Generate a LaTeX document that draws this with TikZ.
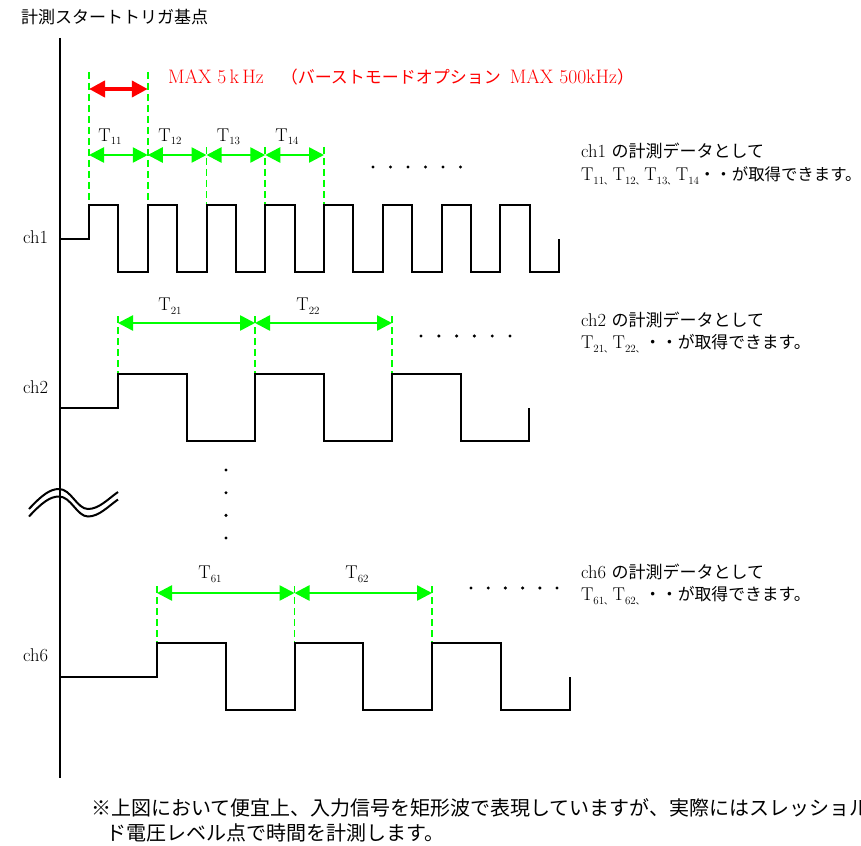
\documentclass[tikz,border=0pt]{standalone}
\usepackage{fontspec}
\newfontfamily\jp{Noto Sans CJK JP}
\usetikzlibrary{arrows.meta}
\newcommand\tsub[1]{\raisebox{-3.5pt}{\fontsize{11}{12}\selectfont #1}}
\newcommand\tsep{\raisebox{-3.5pt}{\jp\fontsize{8.5}{10}\selectfont 、}}

\begin{document}
\begin{tikzpicture}[x=1pt, y=-1pt, line width=2pt,
  wave/.style={draw=black, line width=2pt, line join=miter},
  guide/.style={draw=green, line width=1.8pt, dash pattern=on 7pt off 4pt},
  period/.style={draw=green, line width=2.6pt, {Triangle[length=15pt,width=15pt]}-{Triangle[length=15pt,width=15pt]}},
  burst/.style={draw=red, line width=4pt, {Triangle[length=16pt,width=16pt]}-{Triangle[length=16pt,width=16pt]}},
  tlabel/.style={anchor=base, inner sep=0pt, font=\fontsize{18.5}{21}\selectfont},
  txt/.style={anchor=base west, inner sep=0pt, font=\fontsize{18.5}{21}\selectfont},
  dotmark/.style={fill=black}]
\useasboundingbox (0,0) rectangle (861,845);

\node [txt, font=\jp\fontsize{17}{20}\selectfont] (title) at (20,23.5) {計測スタートトリガ基点};
\coordinate (axtop) at (60,38);
\coordinate (axbot) at (60,778);
\draw (axtop) -- (axbot);

% burst rate
\coordinate (m0) at (89,89);
\coordinate (m1) at (147.75,89);
\draw [burst] (m0) -- (m1);
\node [txt, red, font=\fontsize{19.5}{22}\selectfont] (maxrate) at (167,84) {MAX 5\,k\,Hz{\jp\fontsize{17}{20}\selectfont 　（バーストモードオプション}\hspace{3pt} MAX 500kHz{\jp\fontsize{17}{20}\selectfont ）}};

% ch1
\node [txt] (ch1) at (22,243) {ch1};
\draw [guide] (89,72) -- (89,205);
\draw [guide] (147.75,72) -- (147.75,205);
\foreach \k in {2,3,4} \draw [guide] ({89+58.75*\k},147) -- ({89+58.75*\k},205);
\foreach \k in {0,...,4} \coordinate (p1\k) at ({89+58.75*\k},155);
\draw [period] (p10) -- (p11);
\draw [period] (p11) -- (p12);
\draw [period] (p12) -- (p13);
\draw [period] (p13) -- (p14);
\node [tlabel] (t11) at (110,141.5) {T\tsub{11}};
\node [tlabel] (t12) at (170,141.5) {T\tsub{12}};
\node [tlabel] (t13) at (228.5,141.5) {T\tsub{13}};
\node [tlabel] (t14) at (287,141.5) {T\tsub{14}};
\draw [wave] (60,239) -- (89,239)
  \foreach \k in {0,...,7}{ -- ({89+58.75*\k},205) -- ({118.4+58.75*\k},205)
    -- ({118.4+58.75*\k},272) -- ({147.75+58.75*\k},272) }
  -- (559,239);
\foreach \x in {0,...,5} \fill [dotmark] ({373+17.5*\x},167) circle (1.7pt);
\node [txt] (d1a) at (580,158) {ch1 {\jp\fontsize{17}{20}\selectfont の計測データとして}};
\node [txt] (d1b) at (580,180.5) {T\tsub{11}\tsep T\tsub{12}\tsep T\tsub{13}\tsep T\tsub{14}{\jp\fontsize{16.4}{20}\selectfont ・・が取得できます。}};

% ch2
\node [txt] (ch2) at (22,393) {ch2};
\foreach \k in {0,1,2} \draw [guide] ({118+137*\k},316) -- ({118+137*\k},374);
\foreach \k in {0,1,2} \coordinate (p2\k) at ({118+137*\k},323);
\draw [period] (p20) -- (p21);
\draw [period] (p21) -- (p22);
\node [tlabel] (t21) at (170,310.5) {T\tsub{21}};
\node [tlabel] (t22) at (308,310.5) {T\tsub{22}};
\draw [wave] (60,408) -- (118,408)
  \foreach \k in {0,1,2}{ -- ({118+137*\k},374) -- ({186.5+137*\k},374)
    -- ({186.5+137*\k},441) -- ({255+137*\k},441) }
  -- (529,408);
\foreach \x in {0,...,5} \fill [dotmark] ({421+17.8*\x},336) circle (1.7pt);
\node [txt] (d2a) at (580,326) {ch2 {\jp\fontsize{17}{20}\selectfont の計測データとして}};
\node [txt] (d2b) at (580,348.5) {T\tsub{21}\tsep T\tsub{22}\tsep{\jp\fontsize{16.8}{20}\selectfont ・・が取得できます。}};

% ch3 - ch5 omitted
\foreach \y in {470,492.7,515.3,538} \fill [dotmark] (226,\y) circle (1.7pt);
\foreach \d in {0,7.5}
  \draw (29,{509+\d}) .. controls (42,{495+\d}) and (50,{489+\d}) .. (59,{489+\d})
    .. controls (71,{489+\d}) and (77,{509+\d}) .. (88,{509+\d})
    .. controls (99,{509+\d}) and (108,{499+\d}) .. (118,{492+\d});

% ch6
\node [txt] (ch6) at (22,661) {ch6};
\foreach \k in {0,1,2} \draw [guide] ({157+137.5*\k},586) -- ({157+137.5*\k},643);
\foreach \k in {0,1,2} \coordinate (p6\k) at ({157+137.5*\k},593);
\draw [period] (p60) -- (p61);
\draw [period] (p61) -- (p62);
\node [tlabel] (t61) at (210,578.5) {T\tsub{61}};
\node [tlabel] (t62) at (357,578.5) {T\tsub{62}};
\draw [wave] (60,677) -- (157,677)
  \foreach \k in {0,1,2}{ -- ({157+137.5*\k},643) -- ({225.75+137.5*\k},643)
    -- ({225.75+137.5*\k},710) -- ({294.5+137.5*\k},710) }
  -- (569.5,677);
\foreach \x in {0,...,5} \fill [dotmark] ({471+17.2*\x},588) circle (1.7pt);
\node [txt] (d6a) at (580,578) {ch6 {\jp\fontsize{17}{20}\selectfont の計測データとして}};
\node [txt] (d6b) at (580,600.5) {T\tsub{61}\tsep T\tsub{62}\tsep{\jp\fontsize{16.8}{20}\selectfont ・・が取得できます。}};

% note
\node [txt, font=\jp\fontsize{20}{24}\selectfont] (note1) at (90,815.5) {※上図において便宜上、入力信号を矩形波で表現していますが、実際にはスレッショル};
\node [txt, font=\jp\fontsize{20}{24}\selectfont] (note2) at (105,840.5) {ド電圧レベル点で時間を計測します。};
\end{tikzpicture}
\end{document}
